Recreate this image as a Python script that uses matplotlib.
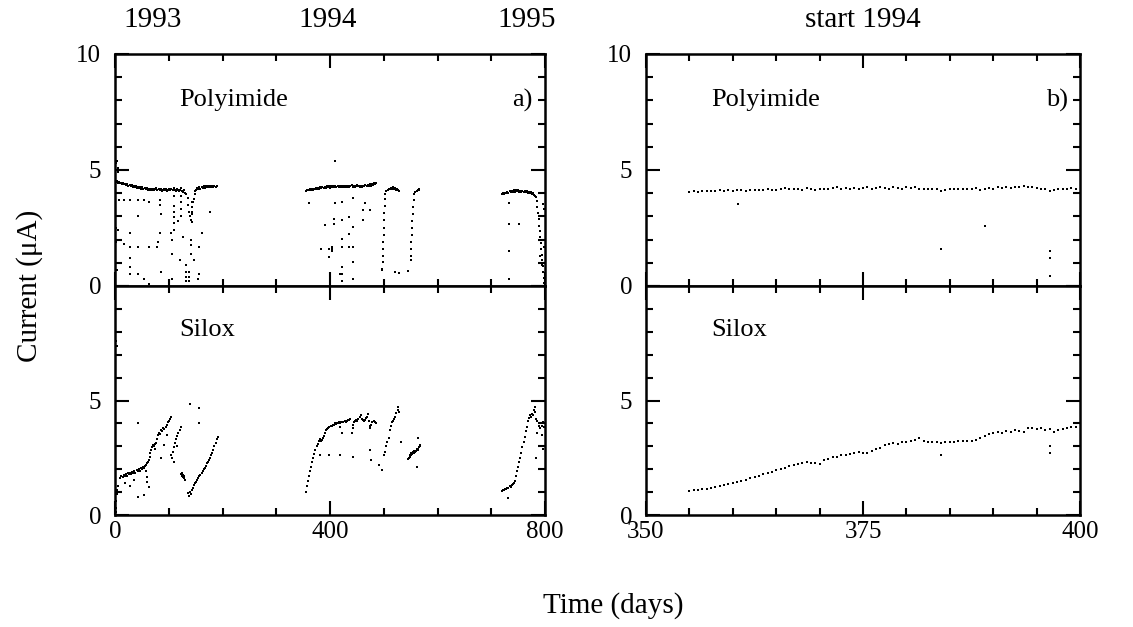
import numpy as np
import matplotlib
matplotlib.use("Agg")
import matplotlib.pyplot as plt
from matplotlib.ticker import MultipleLocator
from matplotlib.transforms import blended_transform_factory

# ---- data: (day, current in uA) ----
poly_a_1993 = [
    (1, 4.48), (3, 4.52), (5, 4.45), (7, 4.50), (9, 4.42), (11, 4.46), (13, 4.40), (15, 4.44), (17, 4.38), (19, 4.41),
    (21, 4.35), (23, 4.39), (25, 4.33), (27, 4.36), (29, 4.30), (31, 4.34), (33, 4.28), (35, 4.31), (37, 4.26), (39, 4.30),
    (41, 4.24), (43, 4.28), (45, 4.22), (47, 4.26), (49, 4.20), (51, 4.25), (53, 4.18), (55, 4.23), (57, 4.17), (59, 4.21),
    (61, 4.15), (63, 4.20), (65, 4.14), (67, 4.18), (69, 4.12), (71, 4.19), (73, 4.13), (75, 4.17), (77, 4.21), (79, 4.14),
    (81, 4.18), (83, 4.12), (85, 4.16), (87, 4.10), (89, 4.15), (91, 4.19), (93, 4.12), (95, 4.16), (97, 4.10), (99, 4.14),
    (101, 4.18), (103, 4.12), (105, 4.20), (107, 4.14), (109, 4.22), (111, 4.15), (113, 4.10), (115, 4.18), (117, 4.12), (119, 4.08),
    (121, 4.15), (123, 4.22), (125, 4.10), (127, 4.05), (129, 4.12), (131, 4.02), (133, 3.95),
    (135, 3.80), (136, 3.50), (137, 3.20), (139, 3.00), (141, 2.85), (143, 3.10), (144, 3.40), (145, 3.60),
    (147, 3.75), (148, 3.95), (149, 4.08), (151, 4.15), (153, 4.22), (155, 4.18), (157, 4.26), (159, 4.20), (161, 4.28), (163, 4.22),
    (165, 4.30), (167, 4.24), (169, 4.31), (171, 4.26), (173, 4.32), (175, 4.27), (177, 4.33), (179, 4.28), (181, 4.30), (183, 4.26),
    (185, 4.32), (187, 4.28), (189, 4.30),
    # scattered drops
    (1, 5.30), (3, 5.40), (5, 5.10), (6, 4.90),
    (8, 3.71), (17, 3.71), (28, 3.71), (43, 3.71), (54, 3.71), (63, 3.60), (83, 3.71), (83, 3.49),
    (109, 3.86), (109, 3.45), (109, 3.20), (109, 2.98), (122, 3.86), (122, 3.60), (122, 3.30), (122, 3.00),
    (144, 3.60), (144, 3.20), (144, 2.76), (176, 3.20),
    (2, 2.50), (5, 2.40), (28, 2.30), (43, 3.00), (83, 2.30), (86, 3.10), (104, 2.30), (106, 2.00), (109, 2.70),
    (109, 2.40), (118, 2.80), (127, 2.10), (141, 2.00), (141, 1.75), (141, 1.40), (161, 2.30), (156, 1.70),
    (2, 1.90), (17, 1.80), (28, 1.70), (43, 1.70), (63, 1.70), (78, 1.70), (80, 1.90), (28, 1.20), (28, 0.80),
    (28, 0.50), (43, 0.50), (54, 0.30), (63, 0.10), (86, 0.60), (106, 1.40), (106, 0.30), (120, 1.10),
    (132, 0.90), (132, 0.60), (132, 0.40), (132, 0.20), (138, 0.60), (138, 0.40), (138, 0.20), (147, 1.10),
    (154, 0.30), (156, 0.50), (2, 1.00), (3, 0.70),
]
poly_a_1994 = [
    (356, 4.10), (358, 4.14), (360, 4.12), (362, 4.17), (364, 4.13), (366, 4.18), (368, 4.15), (370, 4.20), (372, 4.16), (374, 4.22),
    (376, 4.18), (378, 4.24), (380, 4.20), (382, 4.26), (384, 4.21), (386, 4.27), (388, 4.22), (390, 4.28), (392, 4.24), (394, 4.30),
    (396, 4.25), (398, 4.29), (400, 4.24), (402, 4.30), (404, 4.26), (406, 4.32), (408, 4.27), (410, 4.31), (412, 4.26), (414, 4.33),
    (416, 4.28), (418, 4.31), (420, 4.25), (422, 4.30), (424, 4.27), (426, 4.32), (428, 4.26), (430, 4.31), (432, 4.28), (434, 4.33),
    (436, 4.27), (438, 4.30), (440, 4.35), (442, 4.28), (444, 4.32), (446, 4.26), (448, 4.31), (450, 4.36), (452, 4.29), (454, 4.33),
    (456, 4.27), (458, 4.31), (460, 4.25), (462, 4.32), (464, 4.29), (466, 4.35), (468, 4.30), (470, 4.37), (472, 4.31), (474, 4.38),
    (476, 4.33), (478, 4.40), (480, 4.35), (482, 4.42), (484, 4.38), (486, 4.45),
    (503, 3.95), (505, 4.08), (507, 4.15), (509, 4.20), (511, 4.18), (513, 4.23), (515, 4.20), (517, 4.25), (519, 4.18), (521, 4.22),
    (523, 4.15), (525, 4.18), (527, 4.12), (529, 4.08),
    (502, 3.75), (502, 3.45), (501, 3.15), (501, 2.85), (500, 2.50), (500, 2.20), (499, 1.90), (499, 1.60), (498, 1.30),
    (498, 1.05), (497, 0.75), (496, 0.70),
    (557, 3.95), (559, 4.05), (561, 4.10), (563, 4.15), (565, 4.12), (566, 4.20),
    (556, 3.70), (555, 3.40), (554, 3.10), (553, 2.80), (552, 2.50), (552, 2.20), (551, 1.90), (551, 1.60), (550, 1.30), (550, 1.10),
    (520, 0.60), (529, 0.55), (546, 0.65),
    # scattered drops
    (410, 5.38), (361, 3.57), (410, 3.57), (422, 3.64), (442, 3.79), (465, 3.57), (462, 3.28), (474, 3.28),
    (390, 2.62), (407, 2.90), (407, 2.69), (422, 2.84), (436, 2.98), (436, 2.25), (442, 2.55), (462, 2.84),
    (422, 2.04), (384, 1.60), (399, 1.60), (404, 1.67), (403, 1.60), (404, 1.53), (422, 1.67), (436, 1.67), (442, 1.67),
    (399, 1.24), (422, 0.80), (422, 0.51), (422, 0.22), (442, 1.02), (442, 0.29), (419, 0.51),
]
poly_a_1995 = [
    (720, 3.95), (722, 4.00), (724, 3.97), (726, 4.03), (728, 4.00), (730, 4.06), (732, 4.02), (734, 4.08), (736, 4.04), (738, 4.10),
    (740, 4.06), (742, 4.12), (744, 4.07), (746, 4.13), (748, 4.08), (750, 4.12), (752, 4.07), (754, 4.11), (756, 4.06), (758, 4.10),
    (760, 4.05), (762, 4.09), (764, 4.04), (766, 4.08), (768, 4.03), (770, 4.06), (772, 4.01), (774, 4.04), (776, 3.98), (778, 4.00),
    (780, 3.94), (782, 3.90), (784, 3.85),
    (785, 3.65), (786, 3.40), (787, 3.15), (788, 2.90), (789, 2.60), (790, 2.35), (791, 2.10), (792, 1.85), (793, 1.60),
    (794, 1.35), (795, 1.10), (796, 0.85), (797, 0.60), (798, 0.35), (799, 0.15), (791, 1.30), (794, 0.90), (797, 3.55),
    (798, 3.30), (796, 2.00), (799, 1.70),
    (733, 3.57), (733, 2.69), (751, 2.69), (733, 1.53), (733, 0.29),
]

silox_a_1993 = [
    (1, 0.30), (2, 0.15), (2, 0.60), (3, 0.90), (4, 1.10), (5, 1.25), (2, 7.60), (3, 7.40),
    (10, 1.62), (12, 1.70), (14, 1.65), (16, 1.75), (18, 1.70), (20, 1.80), (22, 1.72), (24, 1.82), (26, 1.78), (28, 1.85),
    (30, 1.80), (32, 1.88), (34, 1.84), (36, 1.90), (38, 1.85), (40, 1.95), (42, 1.90), (44, 2.00), (46, 1.92), (48, 2.05),
    (50, 2.00), (52, 2.10), (54, 2.05), (56, 2.15), (58, 2.20), (60, 2.25), (62, 2.30), (64, 2.40), (65, 2.55), (66, 2.70),
    (67, 2.85), (68, 2.95), (70, 3.05), (72, 3.00), (74, 3.10), (76, 3.15), (78, 3.30), (80, 3.50), (82, 3.60), (84, 3.55),
    (86, 3.70), (88, 3.65), (90, 3.80), (92, 3.75), (94, 3.85), (96, 3.95), (98, 4.05), (100, 4.10), (102, 4.20), (104, 4.30),
    (106, 2.50), (108, 2.75), (110, 2.95), (112, 3.15), (114, 3.30), (116, 3.45), (118, 3.60), (120, 3.70), (122, 3.85),
    (123, 1.80), (124, 1.70), (125, 1.85), (126, 1.65), (127, 1.75), (128, 1.60), (129, 1.70), (130, 1.55),
    (135, 0.95), (137, 0.85), (139, 1.00), (141, 0.90), (143, 1.10), (145, 1.20), (147, 1.30), (149, 1.40), (151, 1.45),
    (153, 1.55), (155, 1.60), (157, 1.70), (159, 1.75), (161, 1.85), (163, 1.90), (165, 2.00), (167, 2.05), (169, 2.15),
    (171, 2.25), (173, 2.30), (175, 2.40), (177, 2.50), (179, 2.60), (181, 2.70), (183, 2.85), (185, 3.00), (187, 3.15),
    (189, 3.30), (191, 3.40),
    (43, 4.00), (140, 4.85), (156, 4.66), (156, 4.00), (54, 0.87), (43, 0.80), (27, 1.27), (63, 1.24), (60, 1.67),
    (86, 2.50), (104, 2.60), (92, 3.06), (60, 1.45), (58, 1.90), (75, 2.90), (96, 3.50), (110, 2.30), (115, 3.00),
    (18, 1.40), (35, 1.55),
]
silox_a_1994 = [
    (355, 1.00), (357, 1.25), (359, 1.50), (361, 1.70), (363, 1.90), (365, 2.10), (367, 2.30), (369, 2.50), (371, 2.68), (373, 2.85),
    (375, 3.00), (377, 3.12), (379, 3.22), (381, 3.30), (383, 3.25), (385, 3.28), (387, 3.35), (389, 3.45), (391, 3.60), (393, 3.70),
    (395, 3.75), (397, 3.80), (399, 3.85), (401, 3.90), (403, 3.87), (405, 3.95), (407, 3.92), (409, 4.00), (411, 3.97), (413, 4.02),
    (415, 4.00), (417, 4.05), (419, 4.02), (421, 4.06), (423, 4.08), (425, 4.04), (427, 4.10), (429, 4.07), (431, 4.10), (433, 4.13),
    (435, 4.16), (437, 4.20),
    (441, 3.60), (442, 3.80), (443, 3.95), (445, 4.05), (447, 4.10), (449, 4.15), (451, 4.10), (453, 4.20), (455, 4.30), (457, 4.35),
    (459, 4.20), (461, 4.15), (463, 4.10), (465, 4.15), (467, 4.25), (469, 4.30), (471, 4.40), (473, 4.10), (474, 3.90), (475, 3.80),
    (477, 3.95), (479, 4.05), (481, 4.10), (483, 4.05), (485, 4.00),
    (500, 2.60), (502, 2.75), (504, 3.00), (506, 3.20), (509, 3.35), (511, 3.70), (513, 3.90), (515, 4.05), (517, 4.12), (519, 4.20),
    (521, 4.30), (523, 4.45), (526, 4.73), (527, 4.60), (529, 4.50),
    (546, 2.45), (547, 2.50), (548, 2.55), (549, 2.62), (550, 2.60), (551, 2.70), (552, 2.65), (553, 2.68), (554, 2.70), (555, 2.75),
    (556, 2.72), (557, 2.80), (558, 2.78), (559, 2.75), (560, 2.80), (561, 2.88), (562, 2.85), (563, 2.85), (564, 2.90), (565, 2.95),
    (566, 2.95), (567, 3.05), (568, 3.00),
    (381, 2.62), (399, 2.62), (419, 2.62), (442, 2.55), (474, 2.84), (477, 2.40), (492, 2.18), (497, 1.97), (422, 3.57),
    (532, 3.20), (564, 3.35), (561, 2.10), (419, 3.86),
]
silox_a_1995 = [
    (720, 1.05), (722, 1.10), (724, 1.08), (726, 1.15), (728, 1.12), (730, 1.20), (732, 1.18), (734, 1.25), (736, 1.22), (738, 1.30),
    (740, 1.35), (742, 1.40), (744, 1.50), (746, 1.70), (748, 1.90), (750, 2.10), (752, 2.30), (754, 2.50), (756, 2.70), (758, 2.95),
    (760, 3.20), (762, 3.40), (764, 3.65), (766, 3.85), (768, 4.10), (770, 4.25), (772, 4.35), (774, 4.30), (776, 4.40), (778, 4.35),
    (780, 4.60), (781, 4.70), (782, 4.50), (784, 4.20), (786, 4.10), (788, 3.90), (790, 3.80), (792, 4.00), (794, 3.90), (796, 4.05),
    (798, 3.85), (799, 4.00),
    (732, 0.75), (784, 2.50), (786, 3.60), (795, 3.50), (797, 2.90),
]

# panel b: two readings per day from day 355 to 400
b_days = [
    355.0, 355.5, 356.0, 356.5, 357.0, 357.5, 358.0, 358.5, 359.0, 359.5,
    360.0, 360.5, 361.0, 361.5, 362.0, 362.5, 363.0, 363.5, 364.0, 364.5,
    365.0, 365.5, 366.0, 366.5, 367.0, 367.5, 368.0, 368.5, 369.0, 369.5,
    370.0, 370.5, 371.0, 371.5, 372.0, 372.5, 373.0, 373.5, 374.0, 374.5,
    375.0, 375.5, 376.0, 376.5, 377.0, 377.5, 378.0, 378.5, 379.0, 379.5,
    380.0, 380.5, 381.0, 381.5, 382.0, 382.5, 383.0, 383.5, 384.0, 384.5,
    385.0, 385.5, 386.0, 386.5, 387.0, 387.5, 388.0, 388.5, 389.0, 389.5,
    390.0, 390.5, 391.0, 391.5, 392.0, 392.5, 393.0, 393.5, 394.0, 394.5,
    395.0, 395.5, 396.0, 396.5, 397.0, 397.5, 398.0, 398.5, 399.0, 399.5,
]
poly_b = [
    4.05, 4.08, 4.07, 4.10, 4.08, 4.10, 4.09, 4.12, 4.10, 4.13,
    4.10, 4.15, 4.12, 4.10, 4.13, 4.15, 4.12, 4.14, 4.16, 4.13,
    4.15, 4.18, 4.22, 4.16, 4.18, 4.20, 4.15, 4.22, 4.18, 4.13,
    4.18, 4.20, 4.16, 4.22, 4.25, 4.20, 4.22, 4.18, 4.22, 4.20,
    4.22, 4.25, 4.20, 4.22, 4.27, 4.22, 4.20, 4.25, 4.22, 4.20,
    4.27, 4.22, 4.25, 4.20, 4.17, 4.17, 4.17, 4.17, 4.10, 4.15,
    4.17, 4.17, 4.17, 4.17, 4.17, 4.20, 4.22, 4.12, 4.20, 4.22,
    4.20, 4.25, 4.22, 4.25, 4.22, 4.25, 4.28, 4.30, 4.25, 4.28,
    4.22, 4.20, 4.20, 4.08, 4.15, 4.18, 4.20, 4.18, 4.22, 4.20,
]
silox_b = [
    1.05, 1.08, 1.10, 1.12, 1.15, 1.20, 1.22, 1.28, 1.30, 1.35,
    1.38, 1.42, 1.48, 1.55, 1.60, 1.65, 1.70, 1.78, 1.82, 1.88,
    1.95, 2.00, 2.05, 2.12, 2.18, 2.22, 2.25, 2.30, 2.28, 2.25,
    2.22, 2.40, 2.45, 2.52, 2.55, 2.60, 2.62, 2.68, 2.70, 2.75,
    2.72, 2.70, 2.78, 2.88, 2.92, 3.05, 3.12, 3.15, 3.12, 3.18,
    3.20, 3.25, 3.28, 3.35, 3.22, 3.18, 3.18, 3.18, 3.15, 3.18,
    3.20, 3.20, 3.22, 3.22, 3.22, 3.25, 3.28, 3.38, 3.45, 3.55,
    3.58, 3.62, 3.60, 3.65, 3.62, 3.70, 3.65, 3.62, 3.78, 3.80,
    3.76, 3.78, 3.72, 3.74, 3.62, 3.70, 3.74, 3.80, 3.84, 3.86,
]
poly_b_outliers = [(360.6, 3.52), (384.0, 1.59), (389.0, 2.58), (396.5, 1.53), (396.6, 1.19), (396.5, 0.44)]
silox_b_outliers = [(384.0, 2.62), (396.5, 3.00), (396.5, 2.72)]

year_labels = ['1993', '1994', '1995']
year_days = [70, 396, 766]

plt.rcParams['font.family'] = ['Liberation Serif', 'DejaVu Serif']

W, H = 1133, 627
fig = plt.figure(figsize=(W / 100, H / 100), dpi=100)


def box(x0, x1, y0, y1):
    # pixel box -> figure fraction
    return [x0 / W, 1 - y1 / H, (x1 - x0) / W, (y1 - y0) / H]


ax_pa = fig.add_axes(box(115, 545, 54, 286))
ax_sa = fig.add_axes(box(115, 545, 286, 515))
ax_pb = fig.add_axes(box(646, 1080, 54, 286))
ax_sb = fig.add_axes(box(646, 1080, 286, 515))


def style(ax, xlim, major, minor, bottom):
    ax.set_xlim(xlim)
    ax.set_ylim(0, 10)
    ax.xaxis.set_major_locator(MultipleLocator(major))
    ax.xaxis.set_minor_locator(MultipleLocator(minor))
    ax.yaxis.set_minor_locator(MultipleLocator(1))
    ax.tick_params(which='both', direction='in', top=True, right=True, width=1.5, labelsize=18)
    ax.tick_params(which='major', length=10)
    ax.tick_params(which='minor', length=5)
    ax.tick_params(axis='y', pad=10)
    ax.tick_params(axis='x', pad=4)
    for s in ax.spines.values():
        s.set_linewidth(1.8)
    if bottom:
        ax.set_yticks([0, 5, 10], ['0', '5', ''])
    else:
        ax.set_yticks([0, 5, 10], ['0', '5', '10'])
        ax.tick_params(labelbottom=False)


def dots(ax, pairs, s=1.6):
    arr = np.array(pairs, dtype=float)
    ax.scatter(arr[:, 0], arr[:, 1], s=s, marker='s', c='black', linewidths=0)


style(ax_pa, (0, 800), 400, 100, False)
style(ax_sa, (0, 800), 400, 100, True)
style(ax_pb, (350, 400), 25, 5, False)
style(ax_sb, (350, 400), 25, 5, True)

for seg in (poly_a_1993, poly_a_1994, poly_a_1995):
    dots(ax_pa, seg)
for seg in (silox_a_1993, silox_a_1994, silox_a_1995):
    dots(ax_sa, seg)
dots(ax_pb, list(zip(b_days, poly_b)) + poly_b_outliers, s=1.3)
dots(ax_sb, list(zip(b_days, silox_b)) + silox_b_outliers, s=1.3)

fs = 19
for ax, name, tag in ((ax_pa, 'Polyimide', 'a)'), (ax_pb, 'Polyimide', 'b)')):
    ax.text(0.15, 0.80, name, transform=ax.transAxes, fontsize=fs, va='center', ha='left')
    ax.text(0.972, 0.80, tag, transform=ax.transAxes, fontsize=fs, va='center', ha='right')
for ax in (ax_sa, ax_sb):
    ax.text(0.15, 0.81, 'Silox', transform=ax.transAxes, fontsize=fs, va='center', ha='left')

tr = blended_transform_factory(ax_pa.transData, ax_pa.transAxes)
for lab, d in zip(year_labels, year_days):
    ax_pa.text(d, 1.145, lab, transform=tr, fontsize=21, ha='center', va='center')
trb = blended_transform_factory(ax_pb.transData, ax_pb.transAxes)
ax_pb.text(375, 1.145, 'start 1994', transform=trb, fontsize=21, ha='center', va='center')

fig.text(30 / W, 1 - 286 / H, 'Current (\u03bcA)', rotation=90, fontsize=21, ha='center', va='center')
fig.text(613 / W, 1 - 606 / H, 'Time (days)', fontsize=21, ha='center', va='center')

fig.savefig('out.png', dpi=100)
